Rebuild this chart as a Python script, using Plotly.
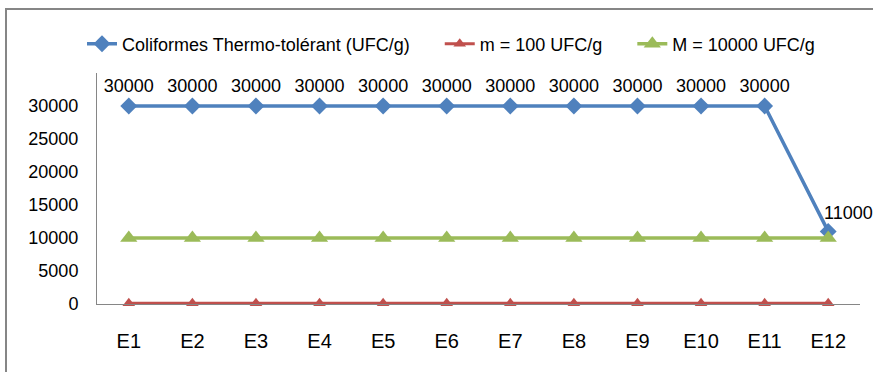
import plotly.graph_objects as go

categories = ["E1", "E2", "E3", "E4", "E5", "E6", "E7", "E8", "E9", "E10", "E11", "E12"]
coliformes = [30000, 30000, 30000, 30000, 30000, 30000, 30000, 30000, 30000, 30000, 30000, 11000]
m_limit = [100] * 12
M_limit = [10000] * 12
y_ticks = [0, 5000, 10000, 15000, 20000, 25000, 30000]

FONT = "Liberation Sans"
W, H = 873, 372
L, R, T, B = 97, 13, 73, 68
pw, ph = W - L - R, H - T - B
NB = "\u00a0"

fig = go.Figure()
fig.add_trace(go.Scatter(
    x=categories, y=coliformes, name="Coliformes Thermo-tolérant (UFC/g)" + NB * 5,
    mode="lines+markers+text", text=[str(v) for v in coliformes[:-1]] + [""],
    textposition="top center",
    textfont=dict(family=FONT, size=18, color="black"),
    line=dict(color="#4F81BD", width=3.5),
    marker=dict(symbol="diamond", size=13, color="#4F81BD"),
    cliponaxis=False,
))
fig.add_trace(go.Scatter(
    x=categories, y=m_limit, name="m = 100 UFC/g" + NB * 5, mode="lines+markers",
    line=dict(color="#C0504D", width=3),
    marker=dict(symbol="triangle-up", size=11, color="#C0504D"),
    cliponaxis=False,
))
fig.add_trace(go.Scatter(
    x=categories, y=M_limit, name="M = 10000 UFC/g", mode="lines+markers",
    line=dict(color="#9BBB59", width=3.5),
    marker=dict(symbol="triangle-up", size=15, color="#9BBB59"),
    cliponaxis=False,
))

fig.add_annotation(x=categories[-1], y=coliformes[-1], text=str(coliformes[-1]),
                   showarrow=False, xanchor="left", yanchor="bottom",
                   xshift=-6, yshift=6,
                   font=dict(family=FONT, size=18, color="black"))

fig.add_shape(type="rect", xref="paper", yref="paper",
              x0=(6 - L) / pw, x1=(W + 20 - L) / pw,
              y0=-1, y1=1 + (T - 9) / ph,
              line=dict(color="#868686", width=2), layer="below")

fig.update_layout(
    width=W, height=H,
    margin=dict(l=L, r=R, t=T, b=B),
    paper_bgcolor="white", plot_bgcolor="white",
    font=dict(family=FONT, size=18, color="black"),
    showlegend=True,
    legend=dict(orientation="h", x=(82 - L) / pw, xanchor="left",
                y=1 + (T - 44) / ph, yanchor="middle",
                font=dict(family=FONT, size=18), itemwidth=30,
                tracegroupgap=0, bgcolor="rgba(0,0,0,0)"),
    xaxis=dict(type="category", range=[-0.5, 11.5], showline=True,
               linecolor="#868686", linewidth=1, showgrid=False, ticks="",
               tickfont=dict(family=FONT, size=20),
               ticklabelstandoff=19, zeroline=False),
    yaxis=dict(range=[0, 35000], tickvals=y_ticks, tickformat="d", showline=True,
               linecolor="#868686", linewidth=1, showgrid=False, ticks="",
               tickfont=dict(family=FONT, size=18), ticklabelstandoff=14,
               zeroline=False),
)

fig.write_html("out.html", config={"displayModeBar": False},
               post_script="document.body.style.margin='0';")
